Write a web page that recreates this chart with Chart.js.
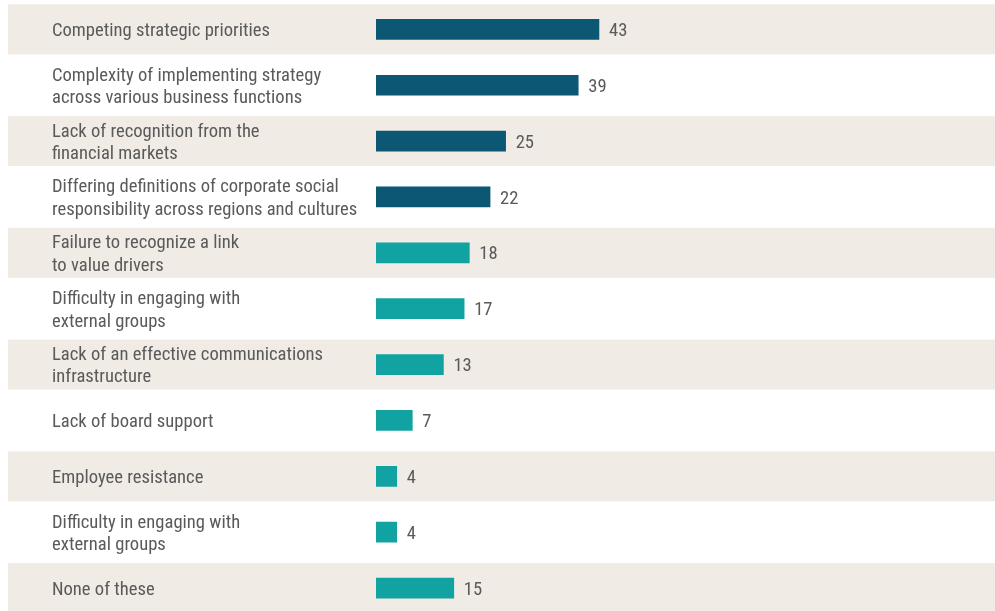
<!DOCTYPE html>
<html>
<head>
<meta charset="utf-8">
<script src="https://cdn.jsdelivr.net/npm/chart.js@4.4.1/dist/chart.umd.min.js"></script>
<style>
  html, body { margin: 0; padding: 0; background: #fff; overflow: hidden; }
  #wrap { position: relative; width: 995px; height: 617px; }
</style>
</head>
<body>
<div id="wrap"><canvas id="chart"></canvas></div>
<script>
// Barriers to integrating social responsibility into strategy (% of respondents)
const categories = [
  "Competing strategic priorities",
  ["Complexity of implementing strategy", "across various business functions"],
  ["Lack of recognition from the", "financial markets"],
  ["Differing definitions of corporate social", "responsibility across regions and cultures"],
  ["Failure to recognize a link", "to value drivers"],
  ["Difficulty in engaging with", "external groups"],
  ["Lack of an effective communications", "infrastructure"],
  "Lack of board support",
  "Employee resistance",
  ["Difficulty in engaging with", "external groups"],
  "None of these"
];
const values = [43, 39, 25, 22, 18, 17, 13, 7, 4, 4, 15];
const leadingCount = 4; // first bars are shown in the darker colour

const DARK = "#0b5774";
const TEAL = "#11a3a1";
const BAND = "#f0ebe5";
const TEXT = "#5a5a5a";
const FONT = "'Roboto Condensed', 'DejaVu Sans Condensed', sans-serif";
const FONT_SIZE = 18.6;

// Alternating beige row bands behind the bars
const bands = {
  id: "bands",
  beforeDraw(chart) {
    const { ctx, scales: { y } } = chart;
    ctx.save();
    ctx.fillStyle = BAND;
    categories.forEach((_, i) => {
      if (i % 2) return;
      const cy = y.getPixelForValue(i);
      ctx.fillRect(8, cy - 25, chart.width - 8, 50);
    });
    ctx.restore();
  }
};

// Numbers at the end of each bar
const valueLabels = {
  id: "valueLabels",
  afterDatasetsDraw(chart) {
    const { ctx } = chart;
    const meta = chart.getDatasetMeta(0);
    ctx.save();
    ctx.fillStyle = TEXT;
    ctx.font = FONT_SIZE + "px " + FONT;
    ctx.textAlign = "left";
    ctx.textBaseline = "middle";
    meta.data.forEach((bar, i) => {
      ctx.fillText(values[i], bar.x + 10, bar.y + 2);
    });
    ctx.restore();
  }
};

new Chart(document.getElementById("chart"), {
  type: "bar",
  data: {
    labels: categories,
    datasets: [{
      data: values,
      backgroundColor: c => c.dataIndex < leadingCount ? DARK : TEAL,
      borderWidth: 0,
      barThickness: 20
    }]
  },
  options: {
    indexAxis: "y",
    responsive: true,
    maintainAspectRatio: false,
    animation: false,
    layout: { padding: { left: 52, right: 100.5, top: 1.4, bottom: 1 } },
    plugins: {
      legend: { display: false },
      tooltip: { enabled: false }
    },
    scales: {
      x: { display: false, min: 0, max: 100 },
      y: {
        grid: { display: false },
        border: { display: false },
        ticks: {
          crossAlign: "far",
          padding: 0,
          labelOffset: 2,
          color: TEXT,
          font: { family: FONT, size: FONT_SIZE, lineHeight: 1.2 }
        },
        afterFit(scale) {
          scale.width = 324;
          // rows run right to the edges, no room kept for half labels
          scale.paddingTop = 0;
          scale.paddingBottom = 0;
        }
      }
    }
  },
  plugins: [bands, valueLabels]
});
</script>
</body>
</html>
